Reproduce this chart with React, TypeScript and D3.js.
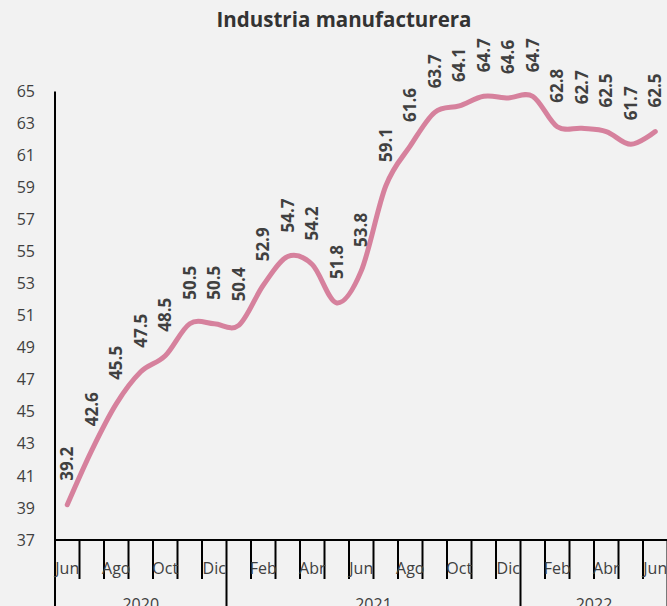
import React from "react";
import * as d3 from "d3";

const months = ["Jun","Jul","Ago","Sep","Oct","Nov","Dic","Ene","Feb","Mar","Abr","May","Jun","Jul","Ago","Sep","Oct","Nov","Dic","Ene","Feb","Mar","Abr","May","Jun"];
const values = [39.2,42.6,45.5,47.5,48.5,50.5,50.5,50.4,52.9,54.7,54.2,51.8,53.8,59.1,61.6,63.7,64.1,64.7,64.6,64.7,62.8,62.7,62.5,61.7,62.5];
const years = [
  { label: "2020", start: 0, end: 7 },
  { label: "2021", start: 7, end: 19 },
  { label: "2022", start: 19, end: 25 },
];
const yTicks = [37,39,41,43,45,47,49,51,53,55,57,59,61,63,65];
const title = "Industria manufacturera";

const W = 667, H = 606;
const left = 55, bw = 24.5;
const axisY = 540;

export default function App() {
  const idx = months.map((_, i) => i);
  const x = d3.scaleBand<number>().domain(idx).range([left, left + bw * months.length]).padding(0);
  const y = d3.scaleLinear().domain([37, 65]).range([axisY, 91.5]);
  const cx = (i: number) => (x(i) as number) + x.bandwidth() / 2;
  const line = d3.line<number>().x((_, i) => cx(i)).y((d) => y(d)).curve(d3.curveCardinal.tension(0));
  const boundary = (i: number) => left + i * x.bandwidth();
  const longIdx = new Set(years.map((g) => g.start).concat(years.map((g) => g.end)));
  const font = "'Open Sans', 'Noto Sans', sans-serif";
  return (
    <svg width={W} height={H} style={{ position: "absolute", left: 0, top: 0, background: "#F2F2F2" }} fontFamily={font}>
      <rect width={W} height={H} fill="#F2F2F2" />
      <text x={344} y={27} textAnchor="middle" fontSize={20.5} fontWeight={700} fill="#333">{title}</text>
      {yTicks.map((t) => (
        <text key={t} x={35} y={y(t)} dy="0.35em" textAnchor="end" fontSize={16} fill="#404040">{t}</text>
      ))}
      <line x1={left} x2={left} y1={y(65)} y2={H} stroke="#000" strokeWidth={2} />
      <line x1={left} x2={W} y1={axisY} y2={axisY} stroke="#000" strokeWidth={2} />
      {d3.range(months.length + 1).map((i) => (
        <line key={i} x1={boundary(i)} x2={boundary(i)} y1={axisY} y2={longIdx.has(i) ? H : 579} stroke="#000" strokeWidth={2} />
      ))}
      {months.map((m, i) => i % 2 === 0 ? (
        <text key={i} x={cx(i)} y={568} dy="0.35em" textAnchor="middle" fontSize={16} fill="#404040">{m}</text>
      ) : null)}
      {years.map((g) => (
        <text key={g.label} x={(boundary(g.start) + boundary(g.end)) / 2} y={610} textAnchor="middle" fontSize={16} fill="#404040">{g.label}</text>
      ))}
      <path d={line(values) || ""} fill="none" stroke="#D6819D" strokeWidth={5} strokeLinecap="round" strokeLinejoin="round" />
      {values.map((v, i) => (
        <text key={i} transform={`translate(${cx(i)},${y(v) - 24}) rotate(-90)`} dy="0.35em" textAnchor="start" fontSize={17} fontWeight={700} fill="#404040">{v.toFixed(1)}</text>
      ))}
    </svg>
  );
}
